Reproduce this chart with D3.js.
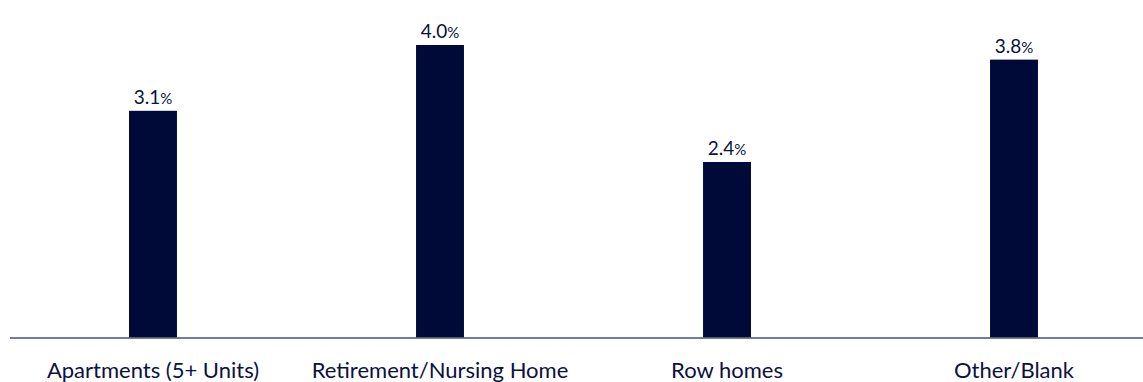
<!DOCTYPE html>
<html>
<head>
<meta charset="utf-8">
<script src="https://cdn.jsdelivr.net/npm/d3@7"></script>
<style>
  html, body { margin: 0; padding: 0; background: #ffffff; }
  svg { display: block; }
  text { font-family: "Lato", "Open Sans", sans-serif; fill: #0b1140; }
</style>
</head>
<body>
<svg id="chart" width="1143" height="382"></svg>
<script>
const categories = ["Apartments (5+ Units)", "Retirement/Nursing Home", "Row homes", "Other/Blank"];
const values = [3.1, 4.0, 2.4, 3.8];

const W = 1143, H = 382;
const svg = d3.select("#chart");

const x = d3.scaleBand()
  .domain(categories)
  .range([9.5, 1157.5])
  .paddingInner(0.833)
  .paddingOuter(0.4165);

const y = d3.scaleLinear()
  .domain([0, 4.0])
  .range([337.5, 45]);

// bars
svg.append("g").selectAll("rect")
  .data(categories)
  .join("rect")
  .attr("x", d => x(d))
  .attr("y", (d, i) => y(values[i]))
  .attr("width", x.bandwidth())
  .attr("height", (d, i) => y(0) - y(values[i]))
  .attr("fill", "#000a38");

// axis
const axis = svg.append("g")
  .attr("transform", `translate(0,${y(0)})`)
  .call(d3.axisBottom(x).tickSize(0).tickPadding(0));
axis.select(".domain").attr("stroke", "#4a4f72").attr("stroke-width", 1.3)
  .attr("d", `M10,0.5H${W}`);
axis.selectAll(".tick text")
  .attr("y", 40.5)
  .attr("dy", 0)
  .style("font-size", "22px")
  .style("font-family", "Lato, 'Open Sans', sans-serif")
  .attr("fill", "#0b1140");

// value labels
const lbl = svg.append("g").selectAll("text")
  .data(categories)
  .join("text")
  .attr("x", d => x(d) + x.bandwidth() / 2)
  .attr("y", (d, i) => y(values[i]) - 7)
  .attr("text-anchor", "middle");
lbl.append("tspan").text((d, i) => values[i].toFixed(1)).style("font-size", "19px");
lbl.append("tspan").text("%").style("font-size", "15px");
</script>
</body>
</html>
